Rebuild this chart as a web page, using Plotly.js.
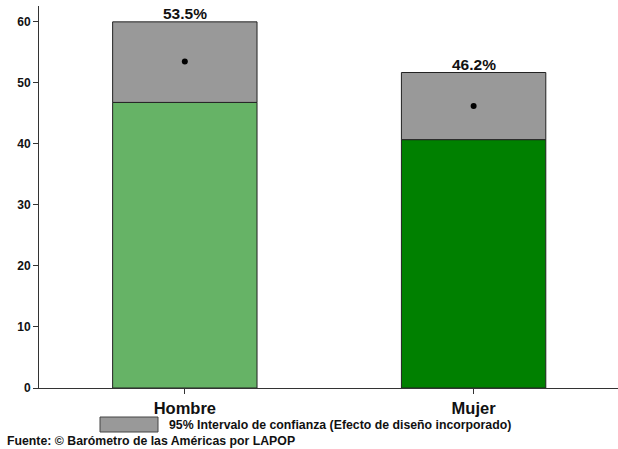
<!DOCTYPE html>
<html><head><meta charset="utf-8">
<script src="https://cdn.plot.ly/plotly-3.0.1.min.js"></script>
<style>html,body{margin:0;padding:0;background:#fff}#c{width:618px;height:449px}</style>
</head><body><div id="c"></div>
<script>
const categories = ["Hombre", "Mujer"];
const means = [53.5, 46.2];
const ciLower = [46.8, 40.7];
const ciUpper = [60.0, 51.7];
const barColors = ["#66b366", "#008000"];
const legendLabel = "95% Intervalo de confianza (Efecto de diseño incorporado)";
const sourceLabel = "Fuente: © Barómetro de las Américas por LAPOP";

const F = "Liberation Sans, Arial, sans-serif";
const traces = [
  {type:"bar", x:categories, y:ciLower, width:0.5,
   marker:{color:barColors, line:{color:"#222", width:1}}, showlegend:false, hoverinfo:"skip"},
  {type:"bar", x:categories, base:ciLower, y:ciUpper.map((u,i)=>u-ciLower[i]), width:0.5,
   marker:{color:"#999999", line:{color:"#222", width:1}}, showlegend:false, hoverinfo:"skip"},
  {type:"scatter", mode:"markers", x:categories, y:means,
   marker:{color:"#000", size:6}, showlegend:false}
];
const annotations = categories.map((c,i)=>({
  x:c, y:ciUpper[i], xref:"x", yref:"y", text:means[i].toFixed(1)+"%",
  showarrow:false, yanchor:"bottom", yshift:-2,
  font:{family:F, size:15.5, color:"#111", weight:"bold"}
}));
annotations.push({xref:"paper", yref:"paper", x:(167-39)/579, y:-(425-388)/382, xanchor:"left", yanchor:"middle",
  text:legendLabel, showarrow:false, font:{family:F, size:12.3, color:"#111", weight:"bold"}});
annotations.push({xref:"paper", yref:"paper", x:(5-39)/579, y:-(441-388)/382, xanchor:"left", yanchor:"middle",
  text:sourceLabel, showarrow:false, font:{family:F, size:12.3, color:"#111", weight:"bold"}});

const layout = {
  width:618, height:449,
  margin:{l:39, r:0, t:6, b:61},
  paper_bgcolor:"#fff", plot_bgcolor:"#fff",
  barmode:"overlay",
  xaxis:{type:"category", range:[-0.505, 1.5], showline:true, linecolor:"#333", linewidth:1,
    ticks:"outside", ticklen:5, tickcolor:"#333", showgrid:false, zeroline:false,
    tickfont:{family:F, size:16.5, color:"#111", weight:"bold"}},
  yaxis:{range:[0, 62.6], tickvals:[0,10,20,30,40,50,60], showline:true, linecolor:"#333", linewidth:1,
    ticks:"outside", ticklen:5, tickcolor:"#333", showgrid:false, zeroline:false,
    tickfont:{family:F, size:12, color:"#111", weight:"bold"}},
  shapes:[{type:"rect", xref:"paper", yref:"paper",
    x0:(100-39)/579, x1:(158-39)/579, y0:-(432-388)/382, y1:-(417-388)/382,
    fillcolor:"#999999", line:{color:"#444", width:1}}],
  annotations:annotations
};
Plotly.newPlot("c", traces, layout, {displayModeBar:false, staticPlot:true});
</script></body></html>
